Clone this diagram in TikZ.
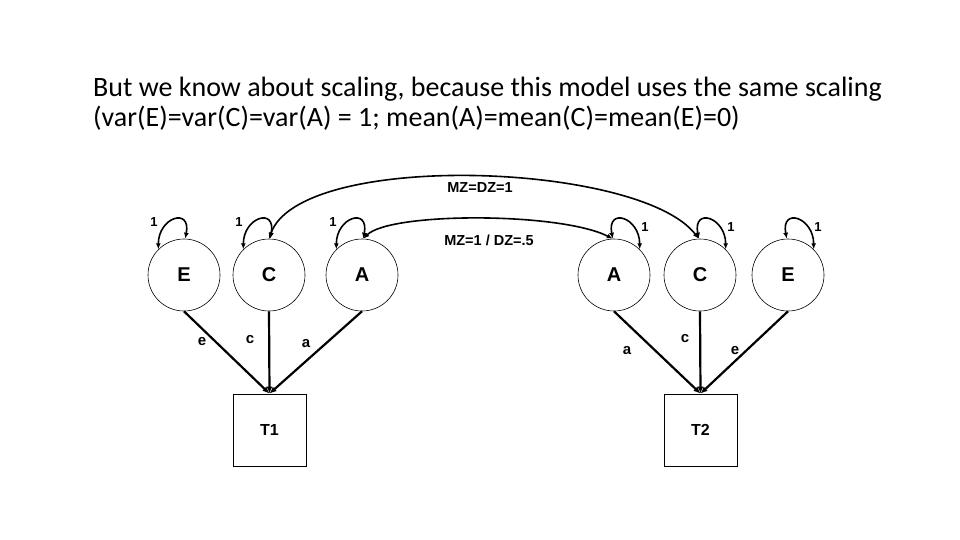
\documentclass[tikz,border=0pt]{standalone}
\usepackage{fontspec}
\setmainfont{Carlito}
\newfontfamily\dfont{Liberation Sans}
\usetikzlibrary{arrows.meta}
\begin{document}
\begin{tikzpicture}[x=1pt,y=-1pt,
  lat/.style={circle,draw,line width=0.6pt,minimum size=72pt,inner sep=0pt,font=\dfont\bfseries\fontsize{20}{20}\selectfont},
  obs/.style={rectangle,draw,line width=0.8pt,minimum width=73pt,minimum height=72pt,inner sep=0pt,font=\dfont\bfseries\fontsize{16}{16}\selectfont},
  path/.style={line width=2.2pt,-{Latex[length=7pt,width=6pt]}},
  cov/.style={line width=1.6pt,{Latex[length=6pt,width=5pt]}-{Latex[length=6pt,width=5pt]}},
  lbl/.style={font=\dfont\bfseries\fontsize{14.5}{14.5}\selectfont,inner sep=1pt},
  plbl/.style={font=\dfont\bfseries\fontsize{15}{15}\selectfont,inner sep=1pt},
  one/.style={font=\dfont\bfseries\fontsize{13}{13}\selectfont,inner sep=1pt},
  title/.style={font=\fontsize{28}{28}\selectfont,anchor=base west,inner sep=0pt}]
\useasboundingbox (0,0) rectangle (960,540);
\fill[white] (0,0) rectangle (960,540);
\node[title] (t1) at (93,97) {But we know about scaling, because this model uses the same scaling};
\node[title] (t2) at (93,127) {(var(E)=var(C)=var(A) = 1; mean(A)=mean(C)=mean(E)=0)};

\node[lat] (E1) at (184,275) {E};
\node[lat] (C1) at (269,275) {C};
\node[lat] (A1) at (362,275) {A};
\node[lat] (A2) at (614,275) {A};
\node[lat] (C2) at (700,275) {C};
\node[lat] (E2) at (788,275) {E};
\node[obs] (T1) at (269.5,430) {T1};
\node[obs] (T2) at (700.5,430) {T2};

\draw[path] (E1.270) -- (T1.north);
\draw[path] (C1.270) -- (T1.north);
\draw[path] (A1.270) -- (T1.north);
\draw[path] (A2.270) -- (T2.north);
\draw[path] (C2.270) -- (T2.north);
\draw[path] (E2.270) -- (T2.north);

\node[plbl] (le1) at (202,342) {e};
\node[plbl] (lc1) at (250,340) {c};
\node[plbl] (la1) at (306,344) {a};
\node[plbl] (la2) at (627,351) {a};
\node[plbl] (lc2) at (685,339) {c};
\node[plbl] (le2) at (735,351) {e};

\foreach \n in {E1,C1,A1}{
  \draw[cov] (\n.135) .. controls +(0,-32) and +(6,-32) .. (\n.88);
}
\foreach \n in {A2,C2,E2}{
  \draw[cov] (\n.92) .. controls +(-6,-32) and +(0,-32) .. (\n.45);
}
\node[one] (o1) at (154,222) {1};
\node[one] (o2) at (239,222) {1};
\node[one] (o3) at (333,222) {1};
\node[one] (o4) at (645,227) {1};
\node[one] (o5) at (731,227) {1};
\node[one] (o6) at (818,227) {1};

\draw[cov] (C1.90) .. controls (300,150) and (640,162) .. (C2.92);
\draw[cov] (A1.88) .. controls (390,212) and (560,212) .. (A2.92);
\node[lbl] (m1) at (480,188) {MZ=DZ=1};
\node[lbl] (m2) at (489,240) {MZ=1 / DZ=.5};
\end{tikzpicture}
\end{document}
